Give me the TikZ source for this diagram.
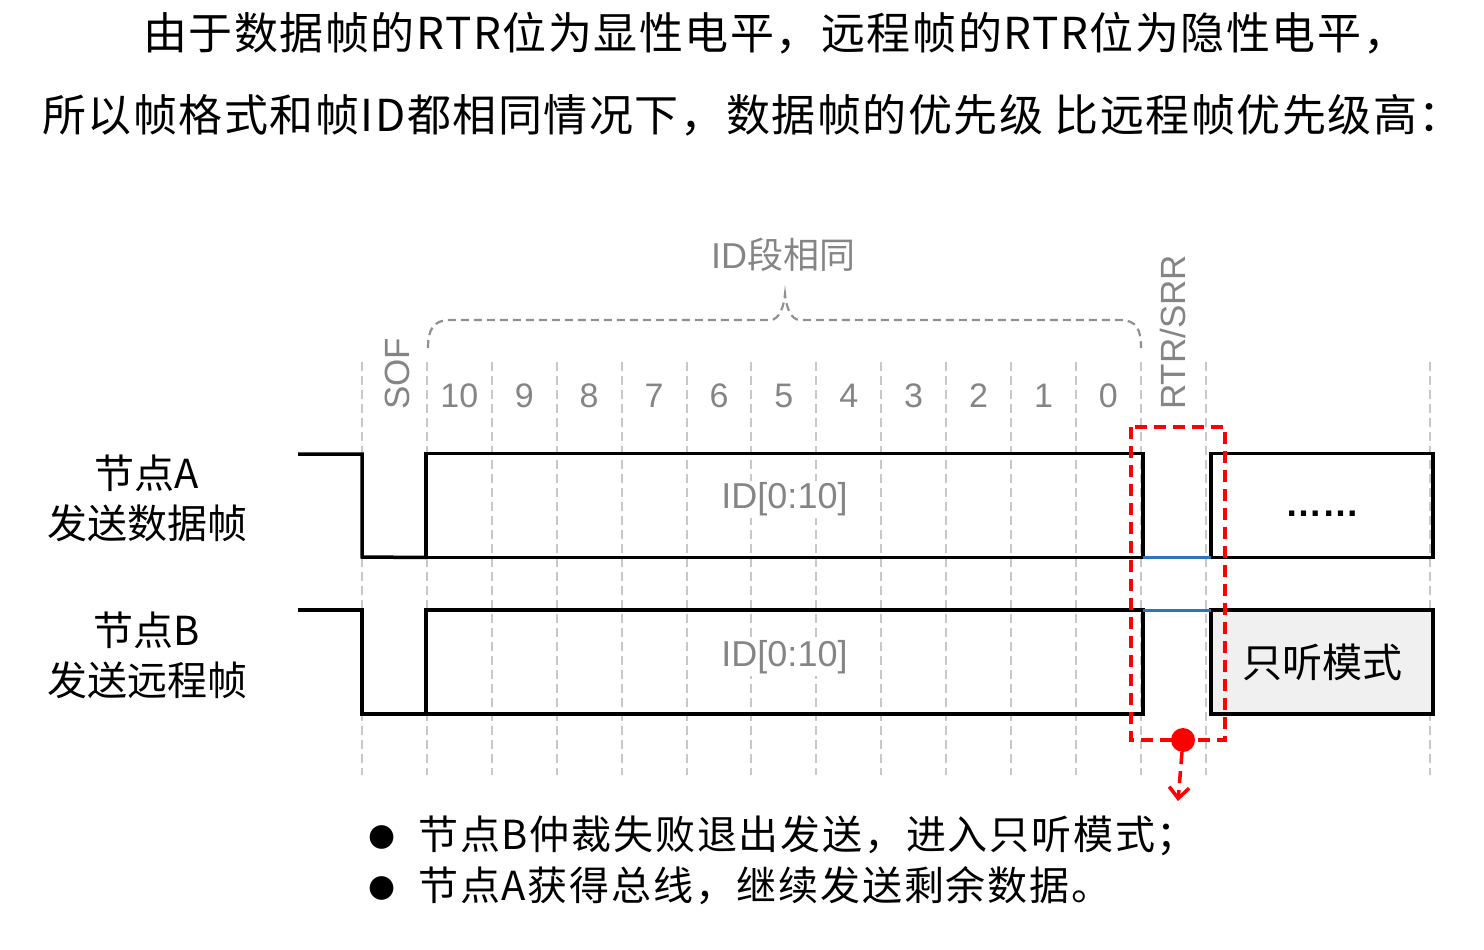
\documentclass[tikz,border=0pt]{standalone}
\usepackage{fontspec}
\setmainfont{Noto Sans CJK SC}
\newfontfamily\headfont[LetterSpace=3.5]{Noto Sans CJK SC}
\newfontfamily\notefont[LetterSpace=4.5]{Noto Sans CJK SC}
\newfontfamily\latinfont{Liberation Sans}
\newfontfamily\symfont{DejaVu Sans}
\usetikzlibrary{arrows.meta, positioning, calc}
\definecolor{txtgray}{HTML}{858585}
\definecolor{gridgray}{HTML}{C8C8C8}
\definecolor{bracegray}{HTML}{909090}
\definecolor{busblue}{HTML}{2E75B6}
\definecolor{listengray}{HTML}{F0F0F0}
\definecolor{alertred}{HTML}{FF0000}

\begin{document}
\begin{tikzpicture}[x=1pt, y=-1pt,
    headline/.style={anchor=west, inner sep=0pt, font=\fontsize{44}{44}\headfont},
    sidelabel/.style={align=center, inner sep=0pt, font=\fontsize{40}{50}\selectfont},
    note/.style={anchor=west, inner sep=0pt, font=\fontsize{40}{40}\notefont},
    gridline/.style={gridgray, line width=2pt, dash pattern=on 9pt off 5pt},
    bitnum/.style={text=txtgray, inner sep=0pt, font=\fontsize{34}{34}\selectfont\latinfont},
    vlabel/.style={rotate=90, anchor=west, inner sep=0pt, text=txtgray,
                   font=\fontsize{35}{35}\selectfont\latinfont},
    idbrace/.style={bracegray, line width=2.2pt, dash pattern=on 8pt off 5pt},
    wave/.style={black, line width=3.5pt, line join=miter},
    field/.style={rectangle, draw=black, line width=3.5pt, inner sep=0pt,
                  outer sep=0pt, minimum height=104pt},
    fieldtxt/.style={text=txtgray, fill=white, inner sep=2pt,
                     font=\fontsize{36}{36}\selectfont\latinfont},
    bus/.style={busblue, line width=3pt},
    hilite/.style={alertred, line width=3.5pt, dash pattern=on 12pt off 7pt}
]
    \useasboundingbox (0,0) rectangle (1484,950);

    % heading
    \node[headline] (head1) at (143,33) {由于数据帧的RTR位为显性电平，远程帧的RTR位为隐性电平，};
    \node[headline] (head2) at (42,115) {所以帧格式和帧ID都相同情况下，数据帧的优先级 比远程帧优先级高：};

    % bit grid
    \foreach \i in {0,...,13}
        \draw[gridline] ({362+64.9*\i},362) -- ({362+64.9*\i},775);
    \draw[gridline] (1430,362) -- (1430,775);
    \foreach \n [count=\k] in {10,9,...,0}
        \node[bitnum] (bit\n) at ({394.45+64.9*\k},396) {\n};
    \node[vlabel] (sof) at (397,410) {SOF};
    \node[vlabel] (rtr) at (1173,410) {RTR/SRR};

    % ID brace
    \draw[idbrace] (428,348) .. controls (428,330) and (433,320) .. (450,320)
        -- (770,320) .. controls (780,320) and (784,305) .. (785,294)
        .. controls (786,305) and (790,320) .. (800,320)
        -- (1120,320) .. controls (1137,320) and (1141,330) .. (1141,348);
    \node[text=txtgray, font=\fontsize{36}{36}\selectfont] (same) at (783,255) {{\latinfont ID}段相同};

    % node A
    \node[sidelabel] (nodeA) at (147,498) {节点A\\发送数据帧};
    \node[field, minimum width=717pt] (idA) at (784.5,505.5) {};
    \node[fieldtxt] (idtxtA) at ([yshift=6pt]idA.center) {ID[0:10]};
    \node[field, minimum width=222pt] (restA) at (1322,505.5) {};
    \node[inner sep=0pt, font=\fontsize{37}{37}\selectfont\latinfont\bfseries] (dotsA)
        at ([yshift=-8pt]restA.center) {……};
    \draw[wave] (298,454) -- (362,454) -- (362,557) -- (idA.south west);
    \draw[bus] (idA.south east) -- (restA.south west);

    % node B
    \node[sidelabel] (nodeB) at (147,655) {节点B\\发送远程帧};
    \node[field, minimum width=717pt] (idB) at (784.5,662) {};
    \node[fieldtxt] (idtxtB) at ([yshift=5pt]idB.center) {ID[0:10]};
    \node[field, fill=listengray, minimum width=222pt] (listenB) at (1322,662)
        {\fontsize{40}{40}\selectfont 只听模式};
    \draw[wave] (298,610) -- (362,610) -- (362,714) -- (idB.south west);
    \draw[bus] (idB.north east) -- (listenB.north west);

    % lost arbitration
    \draw[hilite] (1131,427) rectangle (1225,740);
    \node[circle, fill=alertred, minimum size=24pt, inner sep=0pt] (lossdot) at (1183,740) {};
    \coordinate (lossend) at (1178,801);
    \draw[hilite, -{Straight Barb[length=11pt, width=20pt]}] (lossdot) -- (lossend);

    % notes
    \node[note] (note1) at (368,836) {\raisebox{4pt}{\symfont\fontsize{31}{31}\selectfont ●}\hspace{23pt}节点B仲裁失败退出发送，进入只听模式；};
    \node[note] (note2) at (368,886) {\raisebox{4pt}{\symfont\fontsize{31}{31}\selectfont ●}\hspace{23pt}节点A获得总线，继续发送剩余数据。};
\end{tikzpicture}
\end{document}
